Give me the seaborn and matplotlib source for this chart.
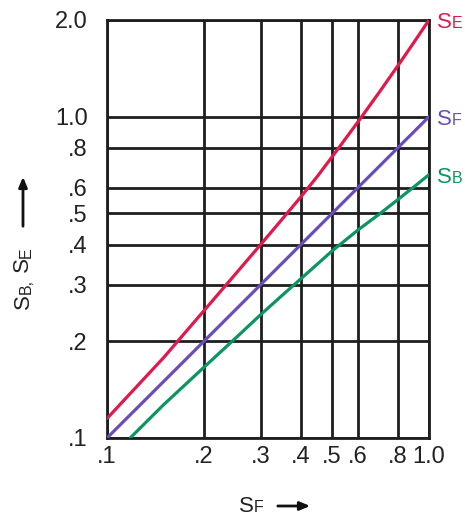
import matplotlib
matplotlib.use("Agg")
import matplotlib.pyplot as plt
import seaborn as sns
import pandas as pd

# values (log-log)
sf_x = [0.1, 0.2, 0.3, 0.4, 0.5, 0.6, 0.8, 1.0]
sf_y = [0.1, 0.2, 0.3, 0.4, 0.5, 0.6, 0.8, 1.0]

se_x = [0.1, 0.15, 0.2, 0.25, 0.3, 0.35, 0.4, 0.45, 0.5, 0.6, 0.7, 0.8, 0.9, 1.0]
se_y = [0.115, 0.178, 0.249, 0.323, 0.4, 0.48, 0.563, 0.652, 0.75, 0.96, 1.19, 1.44, 1.71, 2.0]

sb_x = [0.118, 0.15, 0.2, 0.25, 0.3, 0.35, 0.4, 0.5, 0.6, 0.7, 0.8, 0.9, 1.0]
sb_y = [0.1, 0.127, 0.166, 0.204, 0.242, 0.278, 0.313, 0.382, 0.443, 0.497, 0.552, 0.606, 0.66]

x_ticks = [0.1, 0.2, 0.3, 0.4, 0.5, 0.6, 0.8, 1.0]
x_labels = [".1", ".2", ".3", ".4", ".5", ".6", ".8", "1.0"]
y_ticks = [0.1, 0.2, 0.3, 0.4, 0.5, 0.6, 0.8, 1.0, 2.0]
y_labels = [".1", ".2", ".3", ".4", ".5", ".6", ".8", "1.0", "2.0"]

colors = {"SE": "#E0194B", "SF": "#6A4DB8", "SB": "#0B9562"}

df = pd.concat([
    pd.DataFrame({"x": se_x, "y": se_y, "series": "SE"}),
    pd.DataFrame({"x": sf_x, "y": sf_y, "series": "SF"}),
    pd.DataFrame({"x": sb_x, "y": sb_y, "series": "SB"}),
])

sns.set_style("white")
plt.rcParams["font.family"] = ["Liberation Sans", "DejaVu Sans"]

W, H = 465, 519
fig = plt.figure(figsize=(W / 100, H / 100), dpi=100)
# axes box in pixels: left 107, right 429, top 20, bottom 438
ax = fig.add_axes([107 / W, 1 - 438 / H, (429 - 107) / W, (438 - 20) / H])

sns.lineplot(data=df, x="x", y="y", hue="series", palette=colors, sort=False,
             estimator=None, legend=False, linewidth=2.3, ax=ax, zorder=3)

ax.set_xscale("log")
ax.set_yscale("log")
ax.set_xlim(0.1, 1.0)
ax.set_ylim(0.1, 2.0)
ax.set_xticks(x_ticks)
ax.set_xticklabels(x_labels)
ax.set_yticks(y_ticks)
ax.set_yticklabels(y_labels)
ax.minorticks_off()
ax.tick_params(axis="both", length=0, labelsize=17, colors="#222222")
ax.tick_params(axis="x", pad=6)
ax.tick_params(axis="y", pad=14)
ax.grid(True, color="#1e1e1e", linewidth=2.0)
for s in ax.spines.values():
    s.set_color("#1e1e1e")
    s.set_linewidth(2.0)
    s.set_visible(True)
ax.set_xlabel("")
ax.set_ylabel("")

renderer = fig.canvas.get_renderer()


def chain(x, y, pieces, color, vertical=False):
    # draw text pieces one after another, starting at pixel (x, y) from top-left
    px, py = x, H - y
    for txt, size in pieces:
        if vertical:
            t = fig.text(px / W, py / H, txt, fontsize=size, color=color, rotation=90,
                         ha="left", va="bottom", rotation_mode="anchor")
            py = t.get_window_extent(renderer).y1
        else:
            t = fig.text(px / W, py / H, txt, fontsize=size, color=color,
                         ha="left", va="baseline")
            px = t.get_window_extent(renderer).x1


# series labels on the right
chain(437, 28, [("S", 16), ("E", 11.5)], colors["SE"])
chain(437, 125, [("S", 16), ("F", 11.5)], colors["SF"])
chain(437, 183, [("S", 16), ("B", 11.5)], colors["SB"])

# x axis label with arrow
chain(239, 512, [("S", 16), ("F", 11.5)], "#222222")
ax.annotate("", xy=(313, H - 506), xytext=(275, H - 506), xycoords="figure pixels",
            arrowprops=dict(arrowstyle="-|>,head_length=0.6,head_width=0.25",
                            color="#111111", lw=2))

# y axis label (rotated) with arrow
chain(34, 309, [("S", 16), ("B,", 11.5), (" S", 16), ("E", 11.5)], "#222222",
      vertical=True)
ax.annotate("", xy=(23, H - 174), xytext=(23, H - 229), xycoords="figure pixels",
            arrowprops=dict(arrowstyle="-|>,head_length=0.6,head_width=0.25",
                            color="#111111", lw=2))

fig.savefig("out.png", dpi=100, facecolor="white")
